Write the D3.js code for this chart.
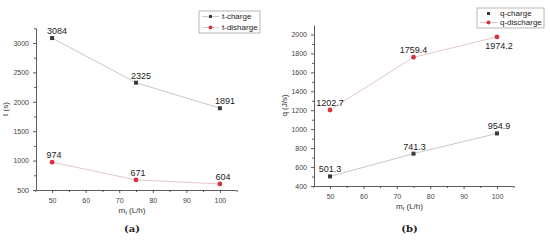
<!DOCTYPE html>
<html>
<head>
<meta charset="utf-8">
<script src="https://cdn.jsdelivr.net/npm/d3@7"></script>
<style>
	body { margin: 0; background: #fff; }
	svg { display: block; font-family: Arial, "Liberation Sans", sans-serif; }
</style>
</head>
<body>
<svg id="chart" width="550" height="241"></svg>
<script>
	"use strict";

	var flowRates = [50, 75, 100],
		tCharge = [3084, 2325, 1891],
		tDischarge = [974, 671, 604],
		qCharge = [501.3, 741.3, 954.9],
		qDischarge = [1202.7, 1759.4, 1974.2],
		tTicks = [500, 1000, 1500, 2000, 2500, 3000],
		qTicks = [400, 600, 800, 1000, 1200, 1400, 1600, 1800, 2000],
		xTicks = [50, 60, 70, 80, 90, 100];

	var svg = d3.select("#chart");

	var panels = [
		{
			left: 36, right: 236, top: 28, bottom: 190,
			yDomain: [500, 3255], yTicks: tTicks, yMinor: 250,
			yTitle: "t (s)", caption: "(a)", titleOff: 28,
			legend: { x: 199, y: 11, w: 61, h: 22, chargeLine: true },
			series: [
				{ name: "t-charge", values: tCharge, kind: "square", line: "#c8c8c8", fill: "#3a3a3a", labelDx: [5, 5, 5], labelDy: [-4, -4, -4], fmt: d3.format("d") },
				{ name: "t-disharge", values: tDischarge, kind: "circle", line: "#e6c6c8", fill: "#d8323c", labelDx: [2, 2, 3], labelDy: [-4, -4, -4], fmt: d3.format("d") }
			]
		},
		{
			left: 314, right: 513, top: 25, bottom: 186,
			yDomain: [400, 2100], yTicks: qTicks, yMinor: 100,
			yTitle: "q (J/s)", caption: "(b)", titleOff: 27,
			legend: { x: 477, y: 8, w: 67, h: 20, chargeLine: false },
			series: [
				{ name: "q-charge", values: qCharge, kind: "square", line: "#c8c8c8", fill: "#3a3a3a", labelDx: [0, 1, 2], labelDy: [-4, -4, -4], fmt: d3.format(".1f") },
				{ name: "q-discharge", values: qDischarge, kind: "circle", line: "#e6c6c8", fill: "#d8323c", labelDx: [0, 0, 2], labelDy: [-4, -4, 12], fmt: d3.format(".1f") }
			]
		}
	];

	panels.forEach(function(p) {
		var x = d3.scaleLinear().domain([45.2, 104.8]).range([p.left, p.right]),
			y = d3.scaleLinear().domain(p.yDomain).range([p.bottom, p.top]),
			g = svg.append("g");

		// axes
		var xAxis = g.append("g")
			.attr("transform", "translate(0," + p.bottom + ")")
			.call(d3.axisBottom(x).tickValues(xTicks).tickSize(3).tickSizeOuter(0).tickFormat(d3.format("d")));
		g.append("g")
			.attr("transform", "translate(0," + p.bottom + ")")
			.call(d3.axisBottom(x).tickValues(d3.range(45, 106, 5).filter(function(v) { return v % 10 !== 0; })).tickSize(2).tickFormat(""))
			.select(".domain").remove();

		var yAxis = g.append("g")
			.attr("transform", "translate(" + p.left + ",0)")
			.call(d3.axisLeft(y).tickValues(p.yTicks).tickSize(3).tickSizeOuter(0).tickFormat(d3.format("d")));
		var minor = [];
		for (var v = p.yDomain[0] + p.yMinor; v < p.yDomain[1]; v += 2 * p.yMinor) minor.push(v);
		g.append("g")
			.attr("transform", "translate(" + p.left + ",0)")
			.call(d3.axisLeft(y).tickValues(minor).tickSize(2).tickFormat(""))
			.select(".domain").remove();

		g.selectAll(".domain").attr("stroke", "#333").attr("stroke-width", 0.8);
		g.selectAll(".tick line").attr("stroke", "#333").attr("stroke-width", 0.8);
		g.selectAll(".tick text")
			.attr("font-size", 7)
			.attr("fill", "#444")
			.attr("font-family", "Arial, 'Liberation Sans', sans-serif");
		xAxis.selectAll(".tick text").attr("dy", "0.95em");
		yAxis.selectAll(".tick text").attr("dx", "-1");

		// titles
		var mx = (p.left + p.right) / 2 - 4;
		var xt = g.append("text")
			.attr("x", mx)
			.attr("y", p.bottom + 23)
			.attr("text-anchor", "middle")
			.attr("font-size", 8)
			.attr("fill", "#333");
		xt.append("tspan").text("m");
		xt.append("tspan").attr("font-size", 5.5).attr("dy", 2).text("f");
		xt.append("tspan").attr("dy", -2).text(" (L/h)");

		g.append("text")
			.attr("transform", "translate(" + (p.left - p.titleOff) + "," + ((p.top + p.bottom) / 2) + ") rotate(-90)")
			.attr("text-anchor", "middle")
			.attr("font-size", 8)
			.attr("fill", "#333")
			.text(p.yTitle);

		g.append("text")
			.attr("x", mx)
			.attr("y", 232)
			.attr("text-anchor", "middle")
			.attr("font-family", "'DejaVu Serif', 'Liberation Serif', serif")
			.attr("font-size", 10)
			.attr("font-weight", "bold")
			.attr("fill", "#222")
			.text(p.caption);

		// series
		p.series.forEach(function(s) {
			var pts = flowRates.map(function(f, i) { return [f, s.values[i]]; });
			g.append("path")
				.datum(pts)
				.attr("fill", "none")
				.attr("stroke", s.line)
				.attr("stroke-width", 1)
				.attr("d", d3.line().x(function(d) { return x(d[0]); }).y(function(d) { return y(d[1]); }));

			var m = g.append("g").selectAll("g").data(pts).enter().append("g")
				.attr("transform", function(d) { return "translate(" + x(d[0]) + "," + y(d[1]) + ")"; });
			if (s.kind === "square") {
				m.append("rect").attr("x", -2).attr("y", -2).attr("width", 4).attr("height", 4).attr("fill", s.fill);
			} else {
				m.append("circle").attr("r", 2.4).attr("fill", s.fill);
			}
			m.append("text")
				.attr("x", function(d, i) { return s.labelDx[i]; })
				.attr("y", function(d, i) { return s.labelDy[i]; })
				.attr("text-anchor", "middle")
				.attr("font-size", 9)
				.attr("fill", "#222")
				.text(function(d) { return s.fmt(d[1]); });
		});

		// legend
		var lg = g.append("g").attr("transform", "translate(" + p.legend.x + "," + p.legend.y + ")");
		lg.append("rect")
			.attr("width", p.legend.w).attr("height", p.legend.h)
			.attr("fill", "#fff").attr("stroke", "#999").attr("stroke-width", 0.7);
		p.series.forEach(function(s, i) {
			var ly = 5.5 + i * (p.legend.h - 11),
				row = lg.append("g").attr("transform", "translate(0," + ly + ")"),
				showLine = i === 1 || p.legend.chargeLine;
			if (showLine) {
				row.append("line").attr("x1", 3).attr("x2", 20).attr("stroke", s.line).attr("stroke-width", 1);
			}
			if (s.kind === "square") {
				row.append("rect").attr("x", 10).attr("y", -1.5).attr("width", 3).attr("height", 3).attr("fill", s.fill);
			} else {
				row.append("circle").attr("cx", 11.5).attr("r", 2).attr("fill", s.fill);
			}
			row.append("text")
				.attr("x", 23)
				.attr("dy", "0.35em")
				.attr("font-size", 8)
				.attr("fill", "#222")
				.text(s.name);
		});
	});
</script>
</body>
</html>
